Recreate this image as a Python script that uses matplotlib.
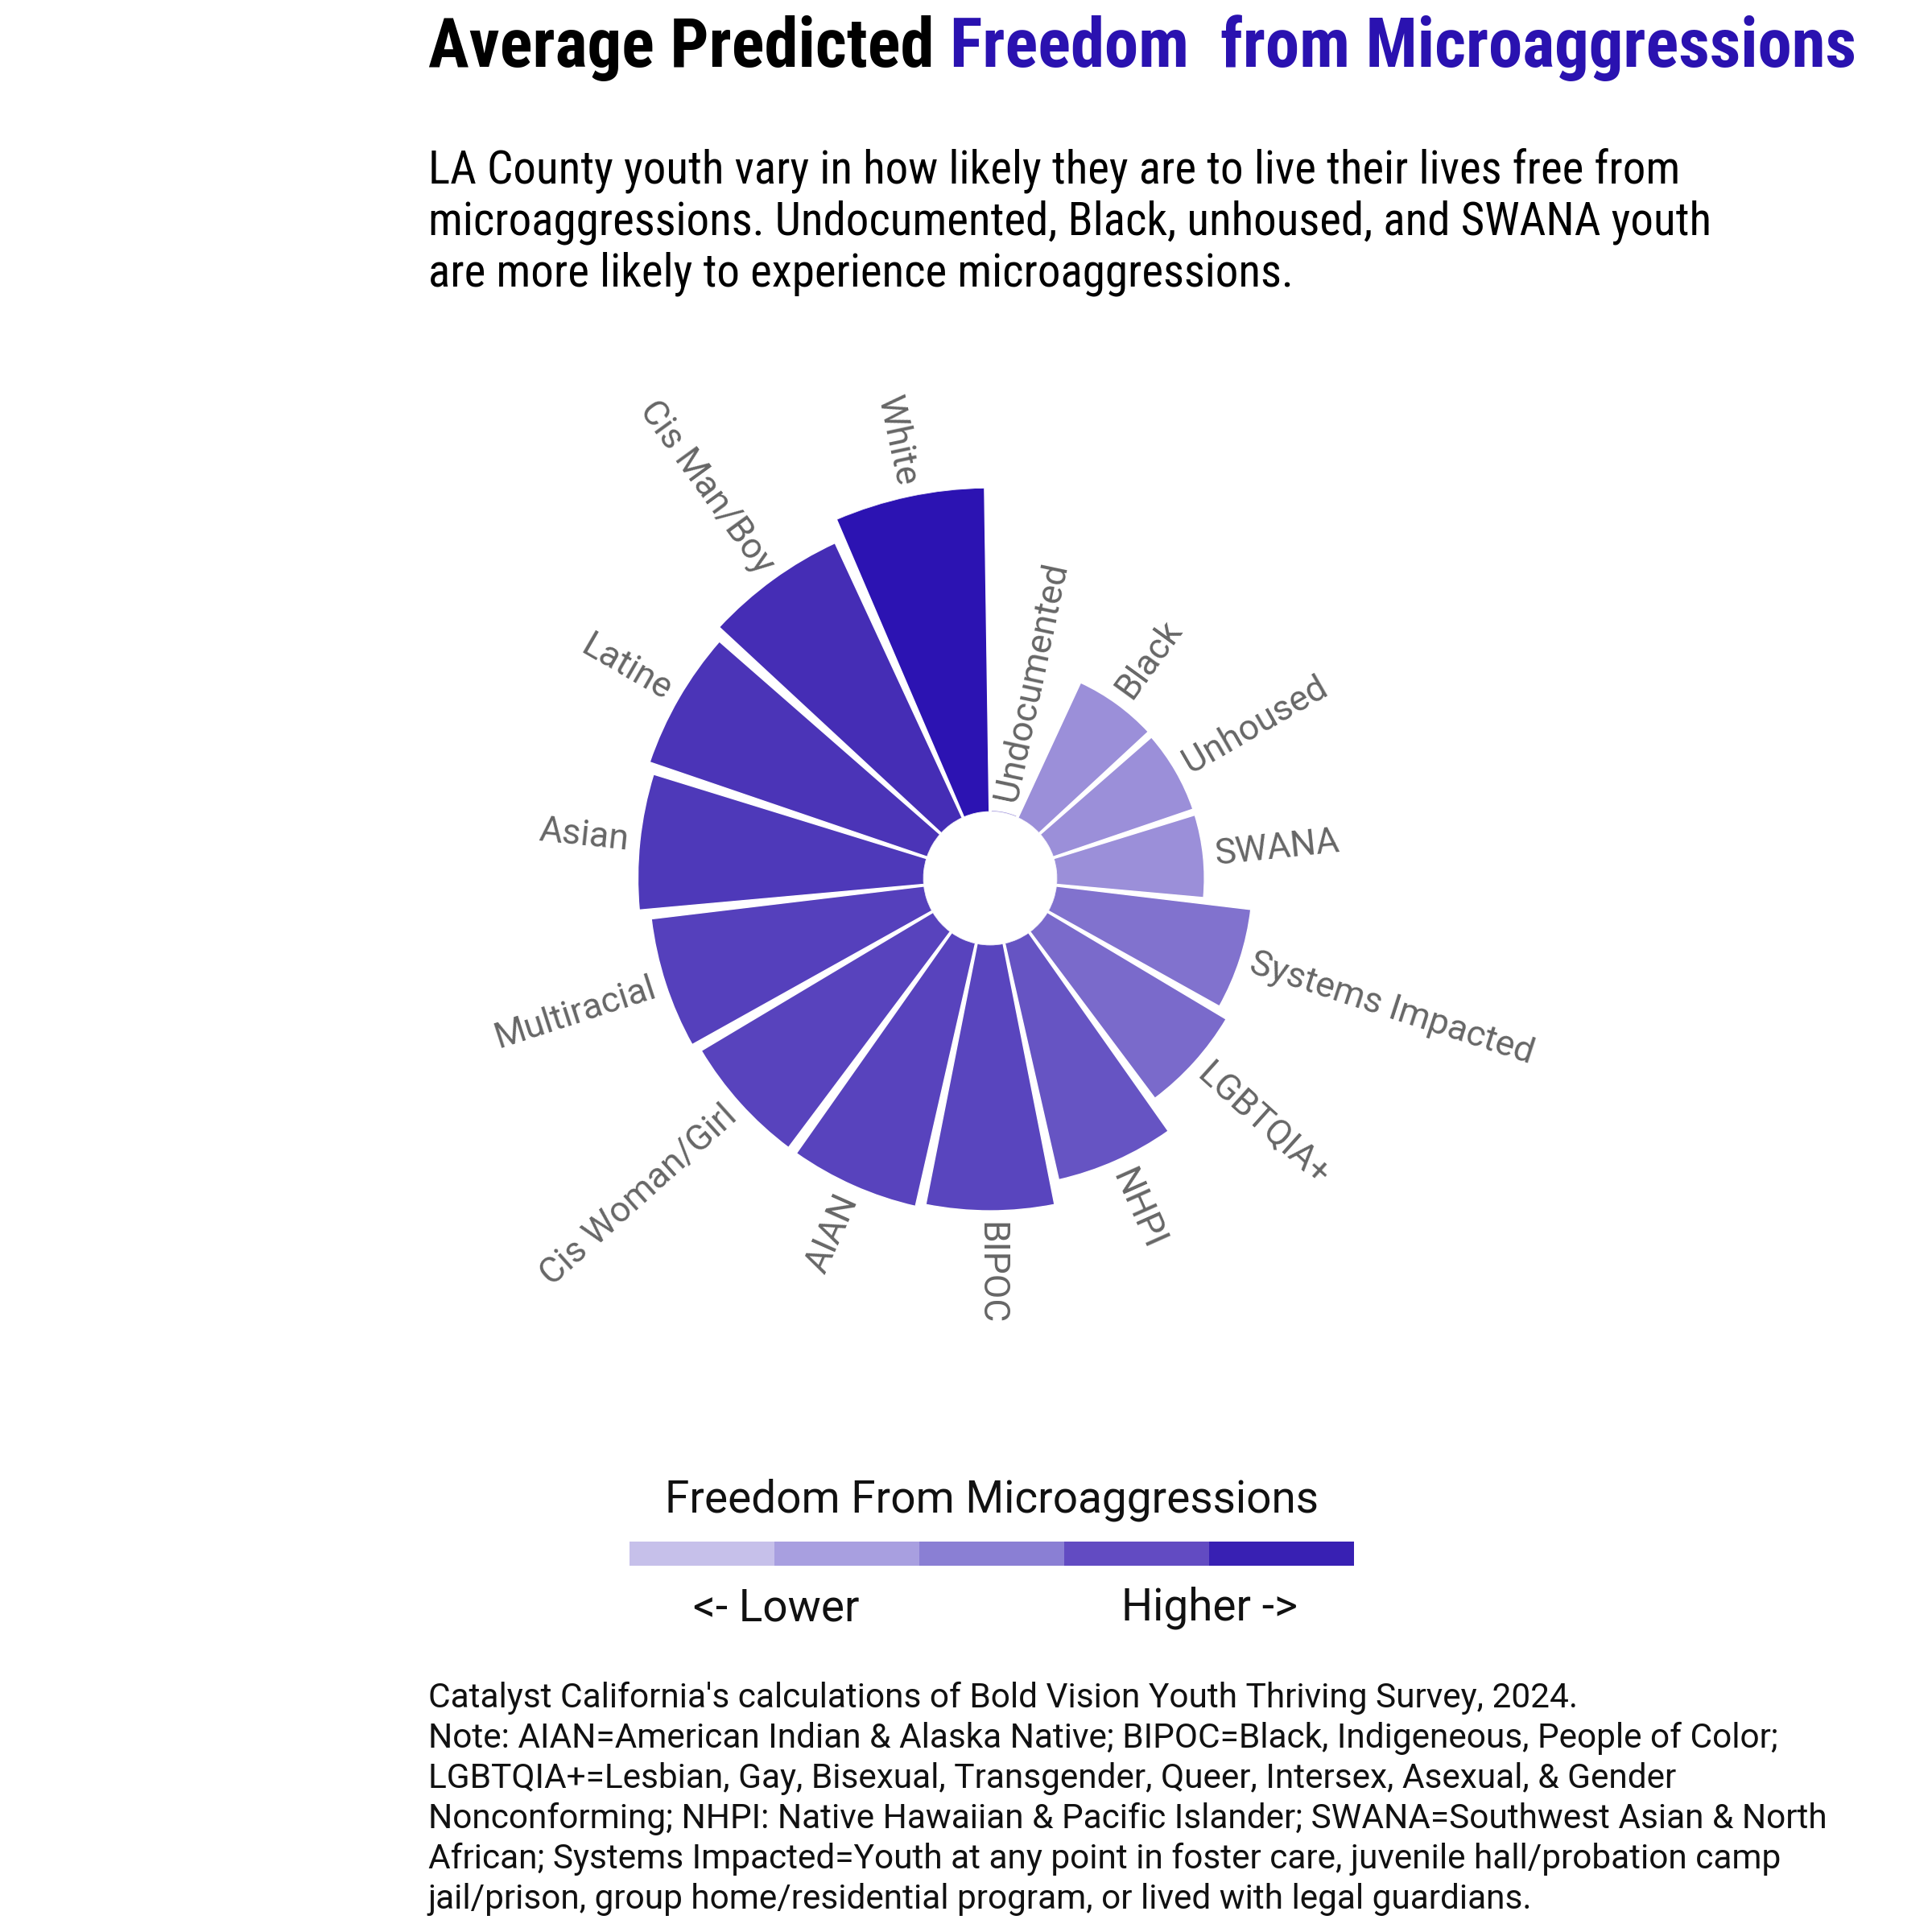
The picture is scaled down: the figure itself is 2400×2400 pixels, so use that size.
import numpy as np
import matplotlib.pyplot as plt
from matplotlib.colors import LinearSegmentedColormap, ListedColormap, Normalize

# groups, clockwise from the top
groups = ["Undocumented", "Black", "Unhoused", "SWANA", "Systems Impacted",
          "LGBTQIA+", "NHPI", "BIPOC", "AIAN", "Cis Woman/Girl",
          "Multiracial", "Asian", "Latine", "Cis Man/Boy", "White"]
# relative predicted freedom from microaggressions (White = 1)
freedom = [0.005, 0.460, 0.456, 0.456, 0.605,
           0.643, 0.749, 0.821, 0.833, 0.833,
           0.848, 0.882, 0.905, 0.935, 1.000]

legend_colors = ["#c6c0ea", "#a89fe0", "#8a7fd4", "#624bc2", "#3820b3"]

title_a = "Average Predicted "
title_b = "Freedom  from Microaggressions"
subtitle = ["LA County youth vary in how likely they are to live their lives free from",
            "microaggressions. Undocumented, Black, unhoused, and SWANA youth",
            "are more likely to experience microaggressions."]
notes = ["Catalyst California's calculations of Bold Vision Youth Thriving Survey, 2024.",
         "Note: AIAN=American Indian & Alaska Native; BIPOC=Black, Indigeneous, People of Color;",
         "LGBTQIA+=Lesbian, Gay, Bisexual, Transgender, Queer, Intersex, Asexual, & Gender",
         "Nonconforming; NHPI: Native Hawaiian & Pacific Islander; SWANA=Southwest Asian & North",
         "African; Systems Impacted=Youth at any point in foster care, juvenile hall/probation camp",
         "jail/prison, group home/residential program, or lived with legal guardians."]

narrow = ['Liberation Sans Narrow', 'Roboto Condensed', 'DejaVu Sans']
plain = ['Roboto', 'DejaVu Sans']
purple = '#2a12b0'

fig = plt.figure(figsize=(24, 24), dpi=100)

ax = fig.add_axes([0.3104, 0.3433, 0.4042, 0.4042], projection='polar')
ax.set_theta_zero_location('N')
ax.set_theta_direction(-1)
n = len(groups)
step = 2 * np.pi / n
theta = np.arange(n) * step + step / 2
cmap = LinearSegmentedColormap.from_list(
    'fm', [(0, '#9b8fd9'), (0.88, '#452eb5'), (1, '#2c13b2')])
norm = Normalize(0.46, 1.0)
ax.bar(theta, freedom, width=step * 0.93, bottom=0, color=cmap(norm(freedom)),
       edgecolor='white', linewidth=1)
ax.set_ylim(0, 1)
ax.set_rorigin(-0.2053)
ax.axis('off')

for t, v, name in zip(theta, freedom, groups):
    deg = np.degrees(t)
    if deg <= 180:
        rot, ha = 90 - deg, 'left'
    else:
        rot, ha = 270 - deg, 'right'
    ax.text(t, v + 0.035, name, rotation=rot, rotation_mode='anchor', ha=ha,
            va='center', fontsize=32, color='#666666', family=plain)

# legend bar
cax = fig.add_axes([0.3258, 0.1896, 0.375, 0.0125])
cax.imshow(np.arange(len(legend_colors))[None, :], cmap=ListedColormap(legend_colors),
           aspect='auto')
cax.axis('off')
fig.text(0.5135, 1 - 1879 / 2400, "Freedom From Microaggressions", ha='center',
         va='baseline', fontsize=39.5, family=plain, color='#111111')
fig.text(0.4017, 1 - 2013 / 2400, "<- Lower", ha='center', va='baseline',
         fontsize=39.5, family=plain, color='#111111')
fig.text(0.6258, 1 - 2013 / 2400, "Higher ->", ha='center', va='baseline',
         fontsize=39.5, family=plain, color='#111111')

# title in two colours
x0 = 0.2215
ta = fig.text(x0, 1 - 83 / 2400, title_a, fontsize=61, weight='bold', family=narrow,
              va='baseline')
fig.canvas.draw()
bb = ta.get_window_extent(renderer=fig.canvas.get_renderer())
fig.text(bb.x1 / fig.bbox.width, 1 - 83 / 2400, title_b, fontsize=61, weight='bold',
         family=narrow, color=purple, va='baseline')

for i, line in enumerate(subtitle):
    fig.text(x0, 1 - (228 + 64 * i) / 2400, line, fontsize=41, family=narrow,
             va='baseline')

for i, line in enumerate(notes):
    fig.text(x0, 1 - (2121 + 50 * i) / 2400, line, fontsize=30.5, family=plain,
             color='#111111', va='baseline')

fig.savefig('out.png', dpi=100, facecolor='white')
